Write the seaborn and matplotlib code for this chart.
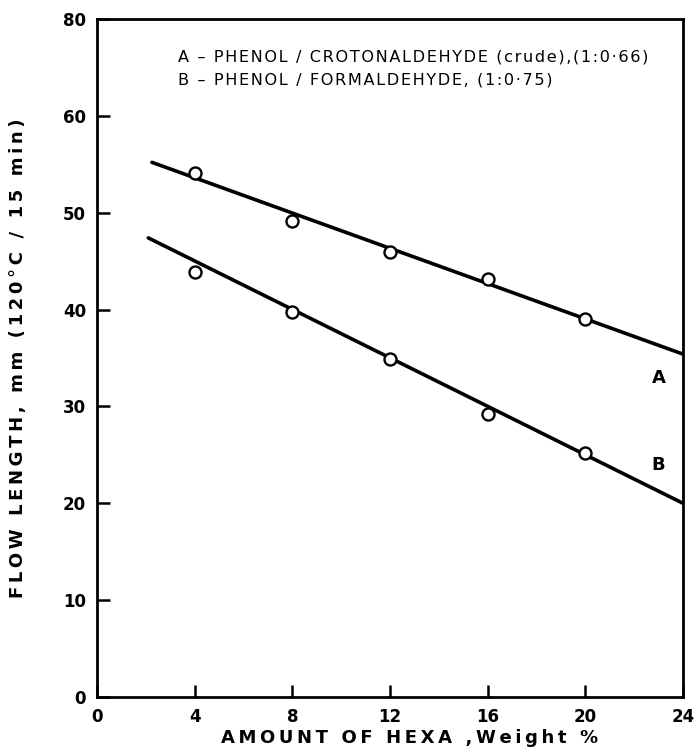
import numpy as np
import pandas as pd
import seaborn as sns
import matplotlib.pyplot as plt

# hexa amount (weight %) and flow length readings
hexa = [4, 8, 12, 16, 20]
flow_a = [54.1, 49.1, 45.9, 43.2, 39.0]
flow_b = [43.9, 39.8, 34.9, 29.2, 25.2]

# hand drawn straight lines, end points
line_a_x = [2.25, 24]
line_a_y = [55.2, 35.4]
line_b_x = [2.1, 24]
line_b_y = [47.4, 20.0]

x_ticks = [0, 4, 8, 12, 16, 20, 24]
y_ticks = [0, 10, 20, 30, 40, 50, 60, 70]
y_tick_labels = ['0', '10', '20', '30', '40', '50', '60', '80']

pts = pd.DataFrame({
  'hexa': hexa * 2,
  'flow': flow_a + flow_b,
  'resin': ['A'] * len(hexa) + ['B'] * len(hexa),
})
lines = pd.DataFrame({
  'hexa': line_a_x + line_b_x,
  'flow': line_a_y + line_b_y,
  'resin': ['A', 'A', 'B', 'B'],
})

def spaced(s, sep='\u2009'):
  # old stencil lettering is wide, mimic with thin spaces
  return sep.join(s)

sns.set_theme(style="ticks")
plt.rcParams['font.family'] = ['DejaVu Sans']
plt.rcParams['text.color'] = 'black'
plt.rcParams['axes.labelcolor'] = 'black'

fig = plt.figure(figsize=(6.99, 7.55), dpi=100)
ax = fig.add_axes([97/699, 58/755, 586/699, 678/755])

sns.lineplot(data=lines, x='hexa', y='flow', units='resin', estimator=None,
             color='black', lw=2.6, ax=ax, legend=False)
sns.scatterplot(data=pts, x='hexa', y='flow', marker='o', s=75,
                facecolor='white', edgecolor='black', linewidth=1.7,
                ax=ax, legend=False, zorder=5)

ax.set_xlim(0, 24)
ax.set_ylim(0, 70)
ax.set_xticks(x_ticks)
ax.set_yticks(y_ticks)
ax.set_yticklabels(y_tick_labels)
for lab in ax.get_xticklabels() + ax.get_yticklabels():
  lab.set_fontweight('bold')
  lab.set_fontsize(12)
ax.tick_params(direction='in', length=9, width=1.8, pad=8, colors='black')
for s in ax.spines.values():
  s.set_linewidth(2)
  s.set_color('black')
  s.set_visible(True)

ax.set_xlabel(spaced('AMOUNT OF HEXA ,Weight %'), fontsize=13, fontweight='bold')
ax.xaxis.set_label_coords(0.534, -0.047)
ax.set_ylabel(spaced('FLOW LENGTH, mm (120°C / 15 min)'), fontsize=13, fontweight='bold')
ax.yaxis.set_label_coords(-0.12, 0.5)

ax.text(3.3, 66.1, spaced('A – PHENOL / CROTONALDEHYDE (crude),(1:0·66)', '\u200a'),
        fontsize=11.6, va='center')
ax.text(3.3, 63.7, spaced('B – PHENOL / FORMALDEHYDE, (1:0·75)', '\u200a'),
        fontsize=11.6, va='center')
ax.text(23.0, 32.9, 'A', fontsize=13, fontweight='bold', ha='center', va='center')
ax.text(23.0, 24.0, 'B', fontsize=13, fontweight='bold', ha='center', va='center')

fig.savefig('out.png', dpi=100)
